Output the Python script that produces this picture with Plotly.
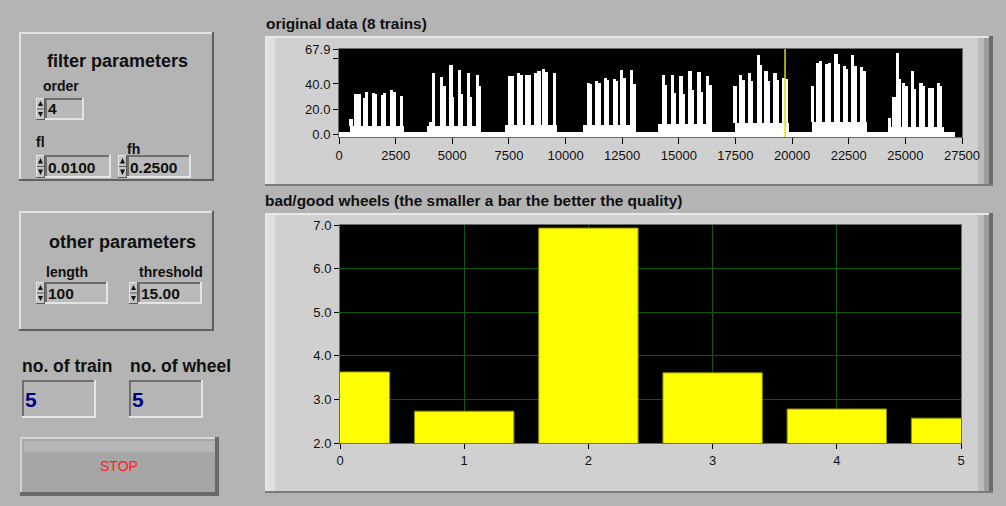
import plotly.graph_objects as go

W, H = 1006, 506

# ---------------- data: top chart "original data (8 trains)" ----------------
train_start = [486, 3900, 7320, 10780, 14080, 17460, 20880, 24246]
train_end = [2869, 6254, 9630, 13100, 16460, 19870, 23290, 26705]
train_band = [6.8, 6.5, 7.2, 7.0, 7.7, 9.0, 9.5, 5.8]
train_floor = [-2.3, -2.3, -2.3, -2.3, 0.9, 0.9, 0.9, -2.3]

spike_x = [
    [530, 736, 883, 1118, 1221, 1515, 1618, 1928, 2001, 2325, 2428, 2766],
    [4050, 4164, 4532, 4635, 4944, 5018, 5311, 5415, 5709, 5800, 6106, 6195],
    [7520, 7640, 7920, 8040, 8290, 8410, 8700, 8820, 9020, 9140, 9500],
    [11000, 11110, 11370, 11470, 11770, 11860, 12150, 12260, 12480, 12590, 12920, 13020],
    [14316, 14420, 14713, 14800, 15096, 15200, 15493, 15590, 15890, 15990, 16258, 16370],
    [17480, 17730, 17850, 18110, 18220, 18510, 18590, 18850, 18950, 19245, 19350, 19610, 19760],
    [20908, 21129, 21261, 21526, 21643, 21938, 22040, 22305, 22409, 22674, 22807, 23072, 23174],
    [24292, 24498, 24645, 24734, 24910, 25027, 25322, 25410, 25690, 25793, 26087, 26205, 26453, 26560],
]
spike_h = [
    [12.4, 32, 32, 29, 33.5, 33, 32, 31, 32.5, 35.5, 34, 30.5],
    [10, 48.6, 45.5, 38, 55, 30, 51, 32, 48.6, 30, 47.3, 38],
    [46, 46, 48.5, 47.5, 47.5, 47.5, 49, 50, 52, 49.5, 49],
    [41, 40, 42.5, 41, 44.5, 43, 44, 42, 51.5, 45, 51.5, 40],
    [47, 39, 47, 33, 46.5, 32, 50, 35, 49.5, 34, 46, 39],
    [38, 47, 43, 48.5, 42, 63, 55, 50, 42, 48.5, 43, 45, 44],
    [38, 56.5, 58, 56, 57, 64, 56, 54, 52, 63, 54, 53.5, 50],
    [13, 30, 65, 44, 41, 38, 50, 36, 40.5, 38, 36.5, 36.5, 40.5, 38],
]
signal_end = 27190
baseline_floor = -2.3
baseline_level = 1.8
cursor_x = 19690
y_top = 67.9
top_x_ticks = [0, 2500, 5000, 7500, 10000, 12500, 15000, 17500, 20000, 22500, 25000, 27500]
top_y_ticks = [0.0, 20.0, 40.0, 67.9]
top_y_minor = [60.0]

# ---------------- data: bottom chart "bad/good wheels" ----------------
wheel_index = [0, 1, 2, 3, 4, 5]
wheel_score = [3.63, 2.73, 6.93, 3.61, 2.78, 2.57]
bottom_y_ticks = [2.0, 3.0, 4.0, 5.0, 6.0, 7.0]

# ---------------- front panel values ----------------
order_val = "4"
fl_val = "0.0100"
fh_val = "0.2500"
length_val = "100"
threshold_val = "15.00"
n_train = "5"
n_wheel = "5"

FONT = "Liberation Sans, Arial, sans-serif"
BG = "#b4b4b4"
FRAME = "#d0d0d0"


def X(px):
    return px / W


def Y(py):
    return 1 - py / H


shapes = []


def rect(x0, y0, x1, y1, fill, line=None, lw=0):
    shapes.append(dict(type="rect", xref="paper", yref="paper",
                       x0=X(x0), x1=X(x1), y0=Y(y1), y1=Y(y0),
                       fillcolor=fill, line=dict(width=lw, color=line or fill),
                       layer="below"))


def bevel(x0, y0, x1, y1, fill, tl, br, t=2):
    rect(x0, y0, x1, y1, fill)
    rect(x0, y0, x1, y0 + t, tl)
    rect(x0, y0, x0 + t, y1, tl)
    rect(x0, y1 - t, x1, y1, br)
    rect(x1 - t, y0, x1, y1, br)


def tri(pts, fill):
    p = "M " + " L ".join(f"{X(a):.5f},{Y(b):.5f}" for a, b in pts) + " Z"
    shapes.append(dict(type="path", xref="paper", yref="paper", path=p,
                       fillcolor=fill, line=dict(width=0), layer="below"))


def spinner(x0, y0, x1, y1):
    bevel(x0, y0, x1, y1, "#c4c4c4", "#e6e6e6", "#5a5a5a", 1)
    mid = (y0 + y1) / 2
    rect(x0 + 1, mid - 0.5, x1 - 1, mid + 0.5, "#5a5a5a")
    cx = (x0 + x1) / 2
    tri([(x0 + 2, mid - 3), (x1 - 2, mid - 3), (cx, y0 + 3)], "#111111")
    tri([(x0 + 2, mid + 3), (x1 - 2, mid + 3), (cx, y1 - 3)], "#111111")


def field(x0, y0, x1, y1, fill="#bababa"):
    bevel(x0, y0, x1, y1, fill, "#6e6e6e", "#e4e4e4", 2)


def chart_frame(x0, y0, x1, y1):
    rect(x0, y0, x1, y1, FRAME)
    rect(x0, y0, x1, y0 + 2, "#e8e8e8")
    rect(x0, y0, x0 + 2, y1, "#e8e8e8")
    rect(x0 + 2, y0 + 2, x0 + 10, y1 - 2, "#e0e0e0")
    rect(x1 - 15, y0 + 2, x1 - 9, y1 - 2, "#bcbcbc")
    rect(x1 - 9, y0 + 2, x1 - 4, y1 - 2, "#9c9c9c")
    rect(x1 - 4, y0, x1, y1, "#6a6a6a")
    rect(x0, y1 - 2, x1, y1, "#7a7a7a")


chart_frame(265, 36, 993, 186)
chart_frame(265, 213, 993, 493)

bevel(19, 32, 214, 181, BG, "#e2e2e2", "#606060", 2)
bevel(19, 211, 214, 331, BG, "#e2e2e2", "#606060", 2)

spinner(36, 98, 45, 120)
field(45, 98, 84, 120, "#b8b8b8")
spinner(36, 155, 45, 178)
field(45, 155, 111, 178)
spinner(118, 155, 127, 178)
field(127, 155, 191, 178)
spinner(36, 282, 45, 304)
field(45, 282, 108, 304)
spinner(129, 282, 138, 304)
field(138, 282, 202, 304)

field(22, 380, 96, 418, "#b6b6b6")
field(129, 380, 203, 418, "#b6b6b6")

rect(20, 437, 219, 496, "#a6a6a6")
rect(24, 441, 215, 452, "#b6b6b6")
rect(20, 437, 219, 439, "#d6d6d6")
rect(20, 437, 22, 496, "#d0d0d0")
rect(20, 492, 219, 496, "#6a6a6a")
rect(215, 437, 219, 496, "#6a6a6a")

for ax, yax in (("x", "y"), ("x2", "y2")):
    shapes.append(dict(type="rect", xref=f"{ax} domain", yref=f"{yax} domain",
                       x0=0, x1=1, y0=0, y1=1, fillcolor="#000000",
                       line=dict(width=0), layer="below"))

# ---------------- traces ----------------
fig = go.Figure()

fig.add_trace(go.Bar(x=[signal_end / 2], y=[baseline_level - baseline_floor], base=[baseline_floor],
                     width=[signal_end], marker=dict(color="#ffffff", line=dict(width=0)),
                     xaxis="x", yaxis="y", hoverinfo="skip", showlegend=False))
fig.add_trace(go.Bar(x=[(s + e) / 2 for s, e in zip(train_start, train_end)],
                     y=[b - f for b, f in zip(train_band, train_floor)],
                     base=train_floor,
                     width=[e - s for s, e in zip(train_start, train_end)],
                     marker=dict(color="#ffffff", line=dict(width=0)),
                     xaxis="x", yaxis="y", hoverinfo="skip", showlegend=False))
sx, sy, sb = [], [], []
for xs, hs, band in zip(spike_x, spike_h, train_band):
    for xv, hv in zip(xs, hs):
        sx.append(xv)
        sy.append(hv - band)
        sb.append(band)
fig.add_trace(go.Bar(x=sx, y=sy, base=sb, width=150,
                     marker=dict(color="#ffffff", line=dict(width=0)),
                     xaxis="x", yaxis="y", hoverinfo="skip", showlegend=False))
fig.add_trace(go.Scatter(x=[cursor_x, cursor_x], y=[baseline_floor, y_top], mode="lines",
                         line=dict(color="#e0e000", width=1.5), xaxis="x", yaxis="y",
                         hoverinfo="skip", showlegend=False))

fig.add_trace(go.Bar(x=wheel_index, y=wheel_score, width=0.8,
                     marker=dict(color="#ffff00", line=dict(color="#8c8c00", width=1)),
                     xaxis="x2", yaxis="y2", hoverinfo="skip", showlegend=False))

tickfont = dict(family=FONT, size=13, color="#101010")

common = dict(automargin=False, fixedrange=True, zeroline=False, showline=True, mirror=True,
              linecolor="#6a6a6a", linewidth=1, tickfont=tickfont, tickcolor="#000000",
              ticks="outside", tickmode="array")

fig.update_layout(
    template="none",
    width=W, height=H, margin=dict(l=0, r=0, t=0, b=0, pad=0), autosize=False,
    paper_bgcolor=BG, plot_bgcolor="rgba(0,0,0,0)",
    barmode="overlay", bargap=0, showlegend=False,
    shapes=shapes,
    xaxis=dict(domain=[X(339), X(962)], anchor="y", range=[0, 27500],
               tickvals=top_x_ticks, ticktext=[str(v) for v in top_x_ticks], ticklen=6,
               showgrid=False, **common),
    yaxis=dict(domain=[Y(137), Y(49)], anchor="x", range=[baseline_floor, y_top],
               tickvals=top_y_ticks, ticktext=[f"{v:.1f}" for v in top_y_ticks], ticklen=5,
               minor=dict(tickvals=top_y_minor, ticks="outside", ticklen=5, tickcolor="#000000"),
               showgrid=False, **common),
    xaxis2=dict(domain=[X(340), X(961)], anchor="y2", range=[0.0, 5.0],
                tickvals=wheel_index, ticktext=[str(v) for v in wheel_index], ticklen=5,
                showgrid=True, gridcolor="#0a5a0a", gridwidth=1, **common),
    yaxis2=dict(domain=[Y(443), Y(225)], anchor="x2", range=[2.0, 7.0],
                tickvals=bottom_y_ticks, ticktext=[f"{v:.1f}" for v in bottom_y_ticks], ticklen=5,
                showgrid=True, gridcolor="#0a5a0a", gridwidth=1, **common),
)


def label(text, x, y, size, color="#101010", bold=True, anchor="left"):
    t = f"<b>{text}</b>" if bold else text
    fig.add_annotation(x=X(x), y=Y(y), xref="paper", yref="paper", text=t,
                       showarrow=False, xanchor=anchor, yanchor="middle", borderpad=0,
                       font=dict(family=FONT, size=size, color=color))


label("original data (8 trains)", 265, 24, 15.4)
label("bad/good wheels (the smaller a bar the better the quality)", 264, 201, 15.4)
label("filter parameters", 117, 61, 18, anchor="center")
label("order", 42, 86, 14)
label("fl", 35, 142, 14)
label("fh", 126, 149, 14)
label("other parameters", 122, 242, 18, anchor="center")
label("length", 45, 272, 14)
label("threshold", 138, 272, 14)
label("no. of train", 21, 366, 17.5)
label("no. of wheel", 129, 366, 17.5)

label(order_val, 47, 109, 15.5)
label(fl_val, 47, 167, 15.5)
label(fh_val, 129, 167, 15.5)
label(length_val, 47, 293, 15.5)
label(threshold_val, 140, 293, 15.5)
label(n_train, 24, 399, 21, color="#000080")
label(n_wheel, 131, 399, 21, color="#000080")
label("STOP", 119, 466, 14, color="#ff2020", bold=False, anchor="center")

fig.write_html("out.html", config={"displayModeBar": False, "staticPlot": True},
               post_script="document.body.style.margin='0';document.body.style.overflow='hidden';")
